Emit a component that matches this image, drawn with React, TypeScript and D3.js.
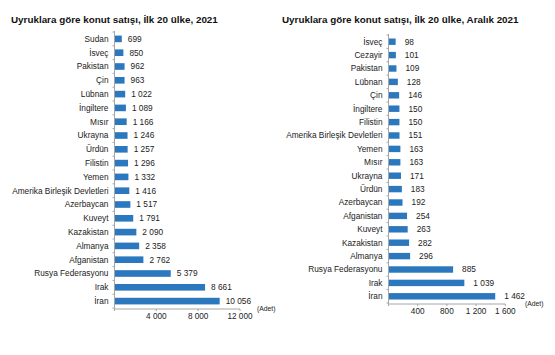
import React from "react";
import * as d3 from "d3";

const leftCategories = ["Sudan","İsveç","Pakistan","Çin","Lübnan","İngiltere","Mısır","Ukrayna","Ürdün","Filistin","Yemen","Amerika Birleşik Devletleri","Azerbaycan","Kuveyt","Kazakistan","Almanya","Afganistan","Rusya Federasyonu","Irak","İran"];
const leftValues = [699,850,962,963,1022,1089,1166,1246,1257,1296,1332,1416,1517,1791,2090,2358,2762,5379,8661,10056];
const leftTicks = [4000, 8000, 12000];

const rightCategories = ["İsveç","Cezayir","Pakistan","Lübnan","Çin","İngiltere","Filistin","Amerika Birleşik Devletleri","Yemen","Mısır","Ukrayna","Ürdün","Azerbaycan","Afganistan","Kuveyt","Kazakistan","Almanya","Rusya Federasyonu","Irak","İran"];
const rightValues = [98,101,109,128,146,150,150,151,163,163,171,183,192,254,263,282,296,885,1039,1462];
const rightTicks = [400, 800, 1200, 1600];

const titles = ["Uyruklara göre konut satışı, İlk 20 ülke, 2021", "Uyruklara göre konut satışı, İlk 20 ülke, Aralık 2021"];
const unitLabel = "(Adet)";

const fmt = (v: number) => {
  const s = String(v);
  return s.length > 3 ? s.slice(0, s.length - 3) + " " + s.slice(s.length - 3) : s;
};

const BAR = "#2c78bf";
const AXIS = "#a6a6a6";
const FONT = "'Liberation Sans', Arial, sans-serif";

type PanelProps = {
  title: string;
  titleX: number;
  cats: string[];
  vals: number[];
  ticks: number[];
  x0: number;
  x1: number;
  yTop: number;
  yBot: number;
  axisY: number;
  labelGap: number;
  unitX: number;
};

function Panel(p: PanelProps) {
  const max = p.ticks[p.ticks.length - 1];
  const x = d3.scaleLinear().domain([0, max]).range([p.x0, p.x1]);
  const y = d3.scaleBand<string>().domain(p.cats).range([p.yTop, p.yBot]).paddingInner(0.52).paddingOuter(0.26);
  const bh = y.bandwidth();
  const boundaries = d3.range(p.cats.length + 1).map((i) => p.yTop + (p.yBot - p.yTop) * i / p.cats.length);
  return (
    <g>
      <text x={p.titleX} y={23} fontFamily={FONT} fontWeight="bold" fontSize={9.85} fill="#111">{p.title}</text>
      {p.cats.map((c, i) => (
        <g key={c + i}>
          <rect x={x(0)} y={y(c)} width={x(p.vals[i]) - x(0)} height={bh} fill={BAR} />
          <text x={p.x0 - 6} y={(y(c) as number) + bh / 2} dy="0.35em" textAnchor="end" fontFamily={FONT} fontSize={8.3} fill="#222">{c}</text>
          <text x={x(p.vals[i]) + p.labelGap} y={(y(c) as number) + bh / 2} dy="0.35em" fontFamily={FONT} fontSize={8.3} fill="#222">{fmt(p.vals[i])}</text>
        </g>
      ))}
      <line x1={p.x0} x2={p.x0} y1={p.yTop - 1} y2={p.axisY} stroke={AXIS} strokeWidth={1} />
      {boundaries.map((b, i) => (
        <line key={"b" + i} x1={p.x0 - 2} x2={p.x0} y1={b} y2={b} stroke={AXIS} />
      ))}
      <line x1={p.x0} x2={p.x1} y1={p.axisY} y2={p.axisY} stroke={AXIS} strokeWidth={1} />
      {[0, ...p.ticks].map((t) => (
        <line key={"t" + t} x1={x(t)} x2={x(t)} y1={p.axisY} y2={p.axisY + 2} stroke={AXIS} />
      ))}
      {p.ticks.map((t) => (
        <text key={"l" + t} x={x(t)} y={p.axisY + 10} textAnchor="middle" fontFamily={FONT} fontSize={8.2} fill="#222">{fmt(t)}</text>
      ))}
      <text x={p.unitX} y={p.axisY} dy="0.3em" fontFamily={FONT} fontSize={6.8} fill="#222">{unitLabel}</text>
    </g>
  );
}

export default function App() {
  return (
    <svg width={555} height={355} style={{ display: "block", position: "absolute", left: 0, top: 0, background: "#fff" }}>
      <rect width={555} height={355} fill="#fff" />
      <Panel title={titles[0]} titleX={11} cats={leftCategories} vals={leftValues} ticks={leftTicks}
        x0={114.5} x1={240} yTop={32} yBot={308} axisY={309} labelGap={6} unitX={257} />
      <Panel title={titles[1]} titleX={282} cats={rightCategories} vals={rightValues} ticks={rightTicks}
        x0={388.5} x1={505.3} yTop={35} yBot={303} axisY={304} labelGap={9} unitX={525} />
    </svg>
  );
}
